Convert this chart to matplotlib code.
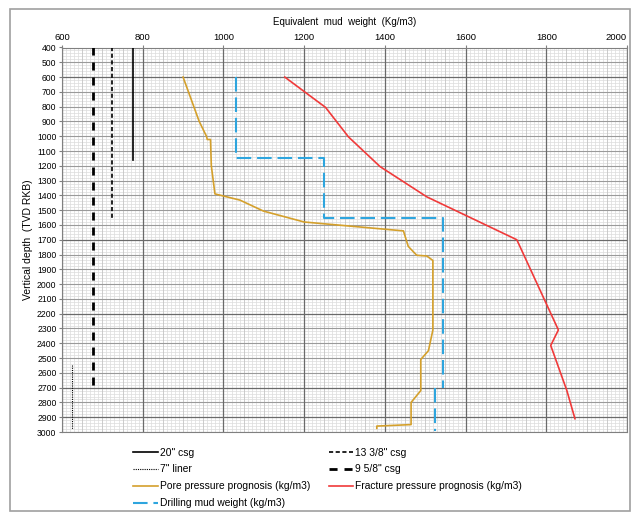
import numpy as np
import matplotlib
matplotlib.use('Agg')
import matplotlib.pyplot as plt
from matplotlib.patches import Rectangle

plt.rcParams['font.family'] = ['Liberation Sans', 'DejaVu Sans']

# Casing shoes: (mud weight position, top depth, bottom depth)
csg20_x, csg20_depth = [775, 775], [400, 1160]
csg13_x, csg13_depth = [725, 725], [400, 1555]
csg9_x, csg9_depth = [676, 676], [400, 2700]
liner7_x, liner7_depth = [626, 626], [2550, 2980]

# Pore pressure prognosis (kg/m3)
pore_depth = [600, 900, 1000, 1022, 1022, 1200, 1390, 1432, 1506, 1580, 1640,
              1745, 1805, 1810, 1840, 2310, 2450, 2510, 2720, 2800, 2950, 2960, 2975]
pore_mw = [900, 940, 958, 960, 968, 970, 979, 1041, 1099, 1200, 1446,
           1458, 1479, 1504, 1519, 1519, 1508, 1489, 1489, 1465, 1465, 1380, 1380]

# Fracture pressure prognosis (kg/m3)
frac_depth = [600, 805, 1005, 1205, 1410, 1700, 2310, 2415, 2720, 2910]
frac_mw = [1152, 1253, 1310, 1388, 1504, 1727, 1830, 1811, 1851, 1871]

# Drilling mud weight (kg/m3), two sections
mud_depth_a = [600, 1150, 1150, 1550, 1550, 2705]
mud_mw_a = [1030, 1030, 1250, 1250, 1545, 1545]
mud_depth_b = [2705, 2990]
mud_mw_b = [1525, 1525]

xticks = list(range(600, 2001, 200))
yticks = list(range(400, 3001, 100))

W, H = 631, 513
fig = plt.figure(figsize=(W / 100, H / 100), dpi=100)
fig.patches.append(Rectangle((10 / W, 2 / H), 620 / W, 502 / H, transform=fig.transFigure,
                             fill=False, edgecolor='#a0a0a0', lw=1.2))

ax = fig.add_axes([62 / W, 1 - 432 / H, 565 / W, 384.5 / H])
ax.set_xlim(600, 2000)
ax.set_ylim(3000, 400)

# grid
for v in range(600, 2001, 10):
    if v % 200 == 0:
        ax.axvline(v, color='#6a6a6a', lw=0.9, zorder=1)
    elif v % 50 == 0:
        ax.axvline(v, color='#c4c4c4', lw=0.6, zorder=0.5)
    else:
        ax.axvline(v, color='#dcdcdc', lw=0.5, zorder=0.4)
for d in range(400, 3001, 20):
    if d in (600, 1700, 2200, 2700, 2900):
        ax.axhline(d, color='#6a6a6a', lw=0.9, zorder=1)
    elif d % 100 == 0:
        ax.axhline(d, color='#9a9a9a', lw=0.8, zorder=0.9)
    else:
        ax.axhline(d, color='#dcdcdc', lw=0.5, zorder=0.4)

# casing
l20, = ax.plot(csg20_x, csg20_depth, color='black', lw=1.2, zorder=3)
l7, = ax.plot(liner7_x, liner7_depth, color='black', lw=0.8, ls=(0, (1, 1)), zorder=3)
l13, = ax.plot(csg13_x, csg13_depth, color='black', lw=1.2, ls=(0, (2.5, 1.5)), zorder=3)
l9, = ax.plot(csg9_x, csg9_depth, color='black', lw=2.0, ls=(0, (2.9, 2.5)), zorder=3)

# curves
lp, = ax.plot(pore_mw, pore_depth, color='#d4a02c', lw=1.2, zorder=4)
lf, = ax.plot(frac_mw, frac_depth, color='#f03a3a', lw=1.2, zorder=4)
lm, = ax.plot(mud_mw_a, mud_depth_a, color='#2ea5de', lw=1.5, ls=(0, (7, 2.8)), zorder=4)
ax.plot(mud_mw_b, mud_depth_b, color='#2ea5de', lw=1.5, ls=(0, (7, 2.8)), zorder=4)

ax.xaxis.tick_top()
ax.xaxis.set_label_position('top')
ax.set_xticks(xticks)
ax.set_yticks(yticks)
ax.tick_params(labelsize=6.2, length=2, pad=2, color='#808080')
ax.tick_params(axis='x', labelsize=6.8)
ax.get_xticklabels()[-1].set_horizontalalignment('right')
ax.set_xlabel('Equivalent  mud  weight  (Kg/m3)', fontsize=7, labelpad=6)
ax.set_ylabel('Vertical depth  (TVD RKB)', fontsize=7.5, labelpad=3)
for s in ax.spines.values():
    s.set_color('#808080')
    s.set_linewidth(0.8)

handles = [l20, l7, lp, lm, l13, l9, lf]
labels = ['20" csg', '7" liner', 'Pore pressure prognosis (kg/m3)', 'Drilling mud weight (kg/m3)',
          '13 3/8" csg', '9 5/8" csg', 'Fracture pressure prognosis (kg/m3)']
fig.legend(handles, labels, ncol=2, loc='upper left', bbox_to_anchor=(133 / W, 1 - 447.5 / H),
           frameon=False, fontsize=7.4, handlelength=2.4, handletextpad=0.2,
           columnspacing=1.8, labelspacing=0.68, borderpad=0, borderaxespad=0)

fig.savefig('out.png', dpi=100)
